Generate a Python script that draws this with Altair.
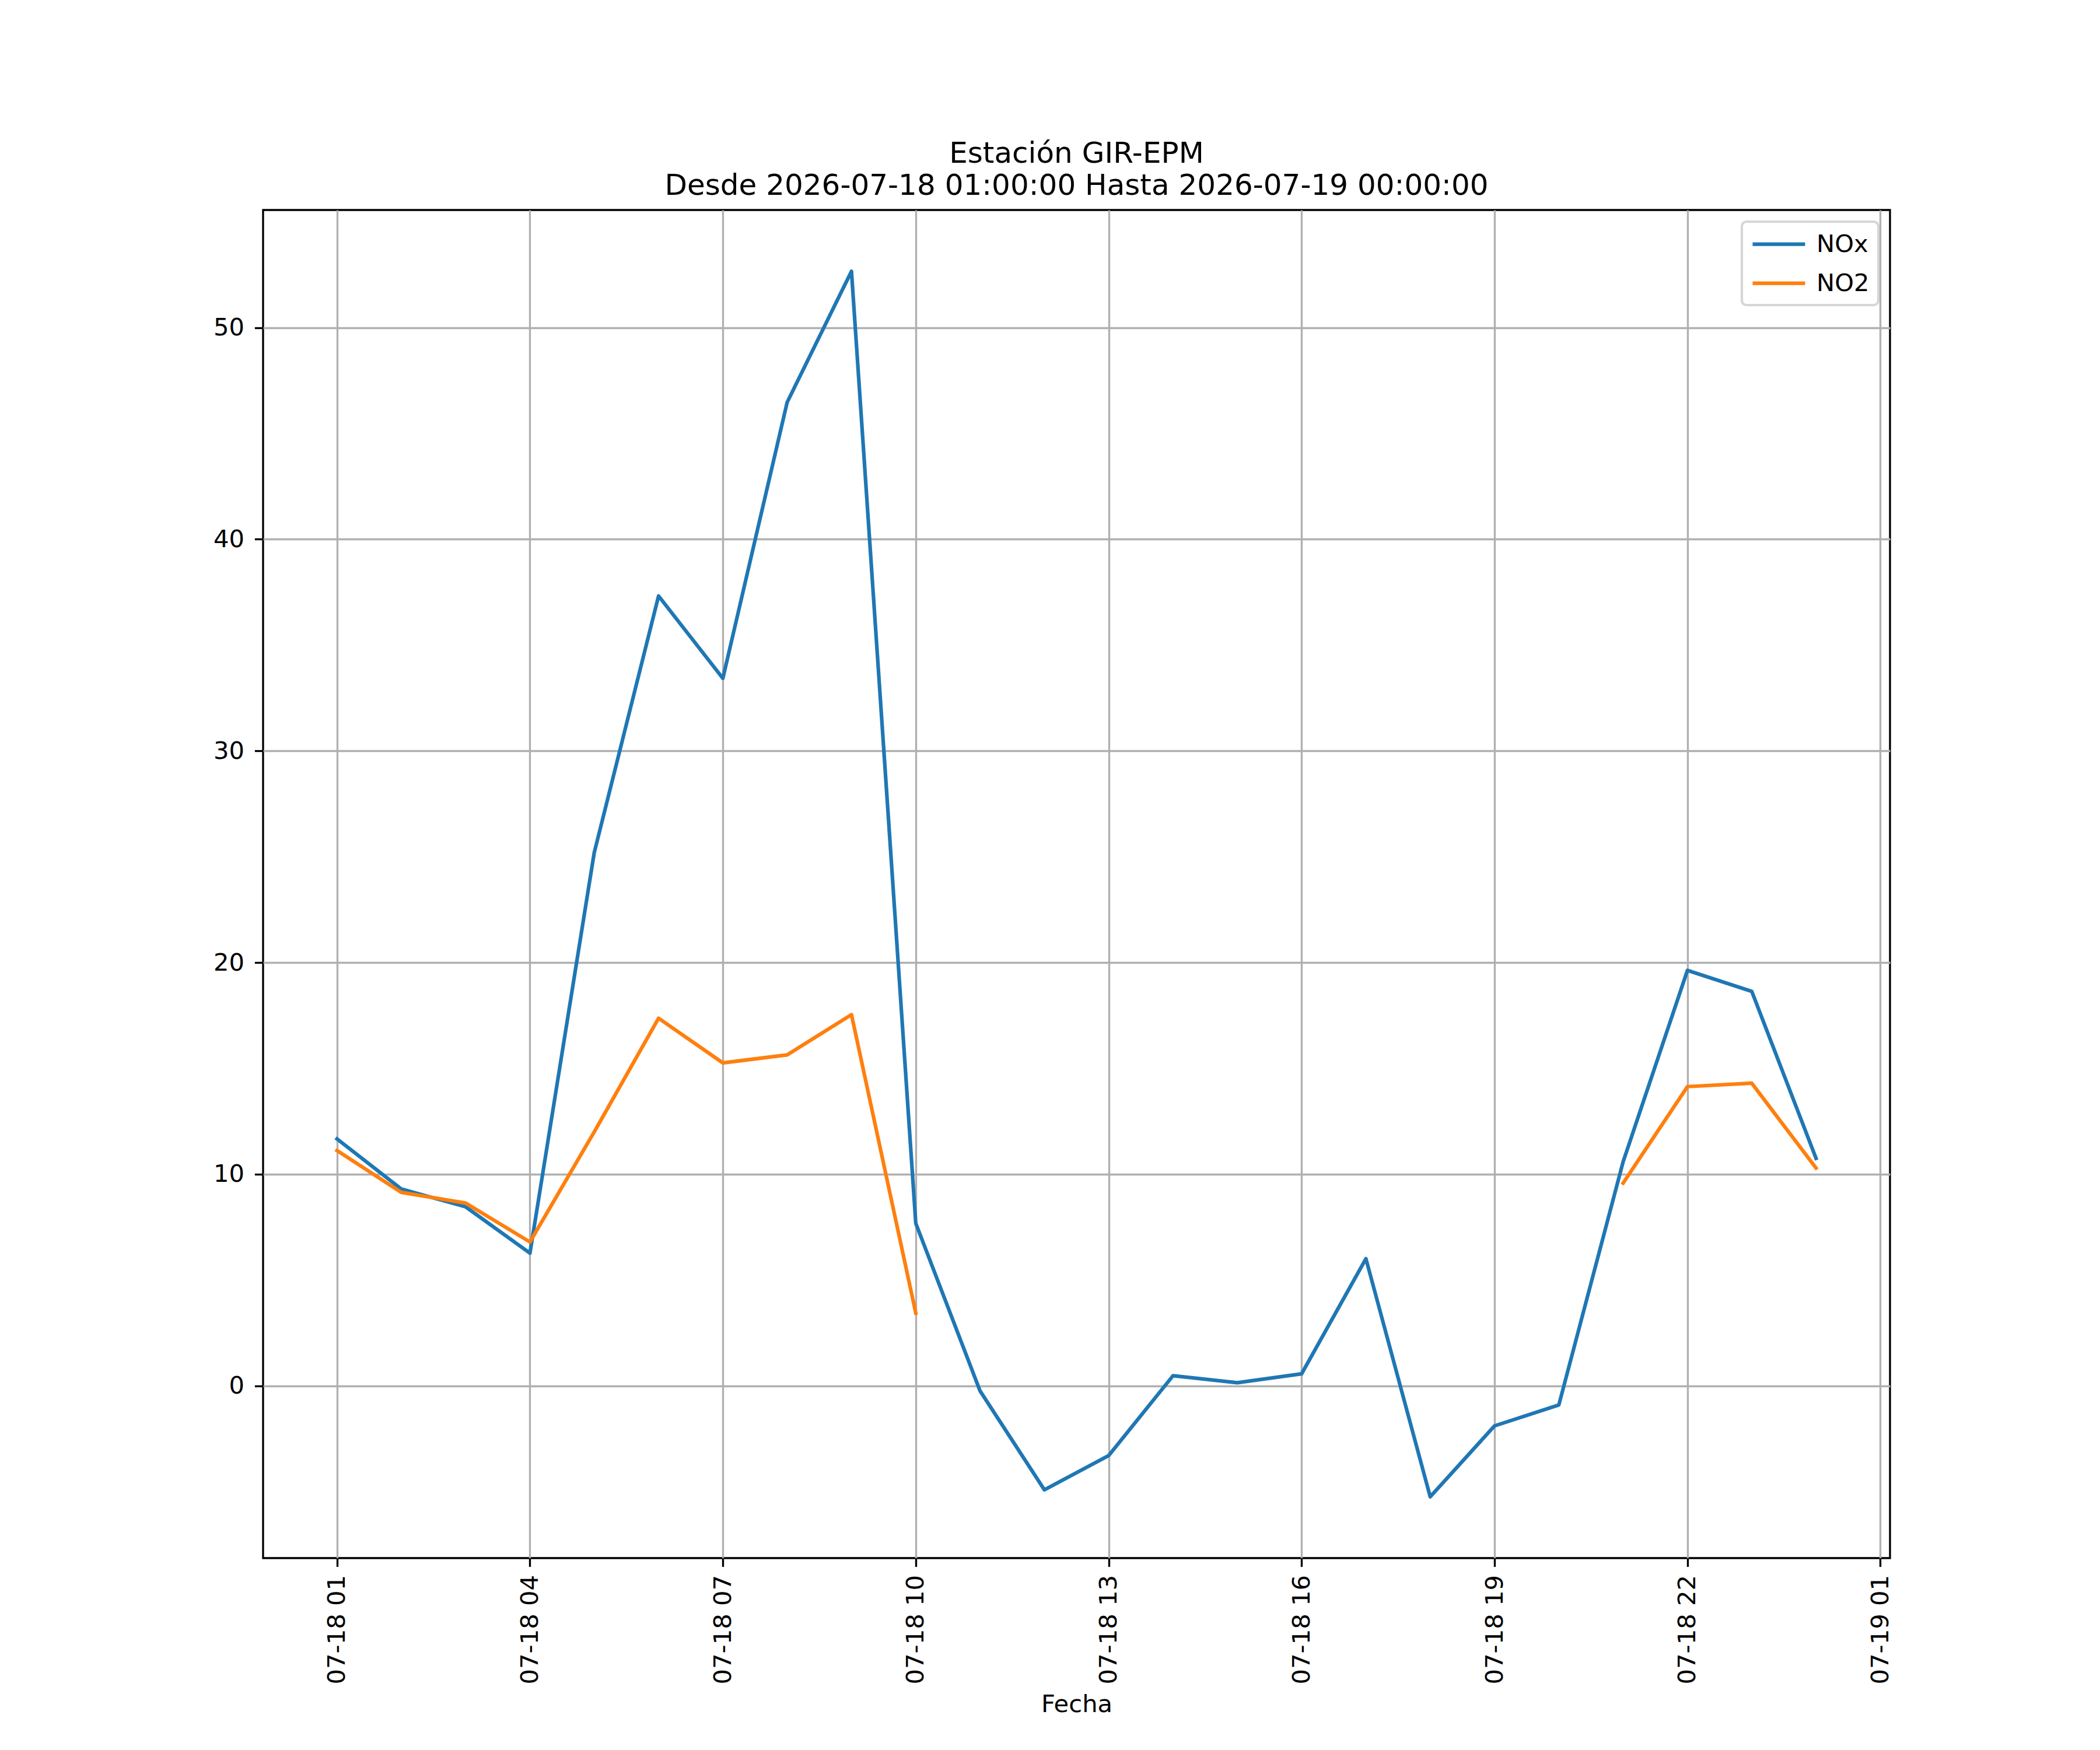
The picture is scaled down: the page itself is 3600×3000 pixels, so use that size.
import altair as alt
import pandas as pd

# ---- data ----
times = [
    "2026-07-18T01:00:00Z", "2026-07-18T02:00:00Z", "2026-07-18T03:00:00Z",
    "2026-07-18T04:00:00Z", "2026-07-18T05:00:00Z", "2026-07-18T06:00:00Z",
    "2026-07-18T07:00:00Z", "2026-07-18T08:00:00Z", "2026-07-18T09:00:00Z",
    "2026-07-18T10:00:00Z", "2026-07-18T11:00:00Z", "2026-07-18T12:00:00Z",
    "2026-07-18T13:00:00Z", "2026-07-18T14:00:00Z", "2026-07-18T15:00:00Z",
    "2026-07-18T16:00:00Z", "2026-07-18T17:00:00Z", "2026-07-18T18:00:00Z",
    "2026-07-18T19:00:00Z", "2026-07-18T20:00:00Z", "2026-07-18T21:00:00Z",
    "2026-07-18T22:00:00Z", "2026-07-18T23:00:00Z", "2026-07-19T00:00:00Z",
]
nox = [11.67, 9.30, 8.46, 6.27, 25.2, 37.32, 33.43, 46.47, 52.66, 7.68,
       -0.24, -4.91, -3.29, 0.48, 0.15, 0.57, 6.01, -5.24, -1.89, -0.90,
       10.59, 19.63, 18.64, 10.75]
no2 = [11.12, 9.14, 8.64, 6.80, 12.0, 17.37, 15.26, 15.64, 17.54, 3.44,
       None, None, None, None, None, None, None, None, None, None,
       9.58, 14.14, 14.30, 10.29]
series_names = ["NOx", "NO2"]
series_colors = ["#1f77b4", "#ff7f0e"]
tick_hours = [(18, 1), (18, 4), (18, 7), (18, 10), (18, 13), (18, 16),
              (18, 19), (18, 22), (19, 1)]
y_ticks = [0, 10, 20, 30, 40, 50]
title_lines = ["Estación GIR-EPM",
               "Desde 2026-07-18 01:00:00 Hasta 2026-07-19 00:00:00"]

# ---- long table, breaking lines at missing values ----
rows = []
seg = 0
for name, vals in zip(series_names, [nox, no2]):
    seg += 1
    prev_missing = False
    for t, v in zip(times, vals):
        if v is None:
            if not prev_missing:
                seg += 1
            prev_missing = True
            continue
        prev_missing = False
        rows.append({"Fecha": t, "valor": v, "serie": name, "seg": seg})
df = pd.DataFrame(rows)

all_vals = [v for v in nox + no2 if v is not None]
lo, hi = min(all_vals), max(all_vals)
m = (hi - lo) * 0.05
y_dom = [lo - m, hi + m]

x_dom = [alt.DateTime(year=2026, month=7, date=17, hours=23, minutes=51, utc=True),
         alt.DateTime(year=2026, month=7, date=19, hours=1, minutes=9, utc=True)]
x_vals = [alt.DateTime(year=2026, month=7, date=d, hours=h, utc=True) for d, h in tick_hours]

FS = 41.67
LW = 3.33
FONT = "DejaVu Sans"

chart = alt.Chart(df).mark_line(strokeWidth=6.25, strokeJoin="round", strokeCap="square").encode(
    x=alt.X("Fecha:T",
            scale=alt.Scale(type="utc", domain=x_dom),
            axis=alt.Axis(values=x_vals,
                          labelExpr="utcFormat(datum.value, '%m-%d %H')",
                          labelAngle=270, labelFlush=False, labelOverlap=False,
                          labelLimit=1000,
                          title="Fecha", titlePadding=30, labelPadding=14)),
    y=alt.Y("valor:Q",
            scale=alt.Scale(domain=y_dom, nice=False, zero=False),
            axis=alt.Axis(values=y_ticks, format="d", title=None, labelPadding=18)),
    color=alt.Color("serie:N",
                    scale=alt.Scale(domain=series_names, range=series_colors),
                    legend=alt.Legend(title=None, orient="top-right", offset=20,
                                      padding=15, strokeColor="#d6d6d6",
                                      fillColor="white", cornerRadius=8,
                                      symbolType="M-1,0H3.5", symbolSize=1600,
                                      symbolStrokeWidth=6.25, labelOffset=66,
                                      rowPadding=21, labelFontSize=FS,
                                      labelFont=FONT, labelColor="black")),
    detail="seg:N",
).properties(
    width=2789, height=2311,
    autosize=alt.AutoSizeParams(type="none"),
    padding={"left": 443, "top": 352, "right": 352, "bottom": 321},
    title=alt.TitleParams(text=title_lines, fontSize=50, font=FONT,
                          fontWeight="normal", color="black", anchor="middle",
                          baseline="bottom", offset=-34, lineHeight=55),
).configure(background="white").configure_view(
    stroke="black", strokeWidth=LW
).configure_axis(
    labelFont=FONT, labelFontSize=FS, labelColor="black",
    titleFont=FONT, titleFontSize=FS, titleFontWeight="normal", titleColor="black",
    grid=True, gridColor="#b0b0b0", gridWidth=LW,
    domain=False, ticks=True, tickColor="black", tickWidth=LW, tickSize=14.6,
).configure_legend(strokeWidth=4.17)

chart.save("out.html", embed_options={"renderer": "svg", "actions": False})
